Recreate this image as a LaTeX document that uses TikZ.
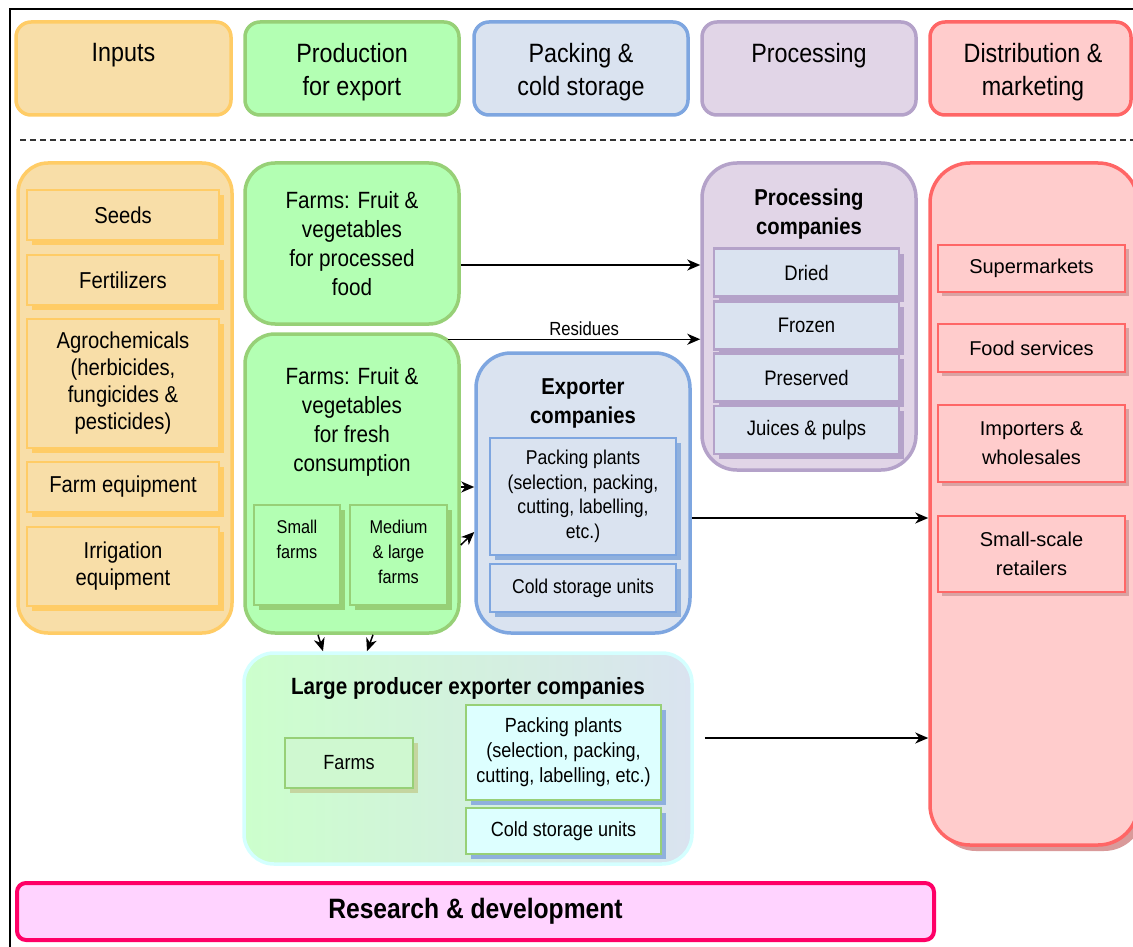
\documentclass[tikz,border=0pt]{standalone}
\usepackage{fontspec}
\setmainfont[FakeStretch=0.88]{Liberation Sans}
\newfontfamily\arialfont{Liberation Sans}
\usetikzlibrary{arrows.meta,shadows,calc}
\newcommand\myfs[2]{\fontsize{#1}{#2}\selectfont}
\definecolor{inF}{HTML}{F8DEA8}
\definecolor{inD}{HTML}{FFCC66}
\definecolor{prF}{HTML}{B3FFB3}
\definecolor{prD}{HTML}{97D077}
\definecolor{paF}{HTML}{DAE3F0}
\definecolor{paD}{HTML}{7EA6E0}
\definecolor{exS}{HTML}{8FB0DD}
\definecolor{pcF}{HTML}{E1D5E7}
\definecolor{pcD}{HTML}{B4A2C9}
\definecolor{diF}{HTML}{FFCCCC}
\definecolor{diD}{HTML}{FF6666}
\definecolor{diS}{HTML}{D99A9A}
\definecolor{diIS}{HTML}{D9A3A3}
\definecolor{rdF}{HTML}{FFD3FF}
\definecolor{rdD}{HTML}{FF0066}
\definecolor{lgL}{HTML}{CCFFCC}
\definecolor{lgR}{HTML}{DAE3F0}
\definecolor{lgD}{HTML}{D4FFFF}
\definecolor{cyF}{HTML}{DDFFFF}
\definecolor{fmF}{HTML}{CFF8D0}
\definecolor{fmS}{HTML}{C5D5A0}
\begin{document}
\begin{tikzpicture}[x=1pt,y=-1pt,
  hdr/.style={draw, line width=3.5pt, rounded corners=15pt, minimum height=93pt, inner sep=0pt},
  htxt/.style={font=\myfs{26.5}{33}, align=center, inner sep=0pt, anchor=north},
  cont/.style={draw, line width=3.5pt, inner sep=0pt},
  ibox/.style={draw, line width=2.6pt, inner sep=0pt, align=center},
  shad/.style={drop shadow={shadow xshift=5pt, shadow yshift=-5pt, fill=#1, opacity=1}},
  ttl/.style={font=\bfseries\myfs{23}{29}, align=center, inner sep=0pt, anchor=north},
  arr/.style={line width=1.5pt, -{Stealth[length=13pt,width=11pt,inset=4pt]}},
]
\useasboundingbox (0,0) rectangle (1133,947);
\fill[white] (0,0) rectangle (1133,947);
% frame and separator
\draw[line width=1.6pt] (1133,9) -- (10,9) -- (10,947);
\draw[line width=1.1pt, black!80, dash pattern=on 6pt off 4pt] (20,140) -- (1133,140);

% headers
\node[hdr, fill=inF, draw=inD, minimum width=215pt] (hIn) at (123.5,68.5) {};
\node[htxt] (hInT) at (123.5,43.5) {Inputs};
\node[hdr, fill=prF, draw=prD, minimum width=214pt] (hPr) at (352,68.5) {};
\node[htxt] (hPrT) at (352,43.5) {Production\\for export};
\node[hdr, fill=paF, draw=paD, minimum width=214pt] (hPa) at (581,68.5) {};
\node[htxt] (hPaT) at (581,43.5) {Packing \&\\cold storage};
\node[hdr, fill=pcF, draw=pcD, minimum width=214pt] (hPc) at (809,68.5) {};
\node[htxt] (hPcT) at (809,43.5) {Processing};
\node[hdr, fill=diF, draw=diD, minimum width=201pt] (hDi) at (1030.5,68.5) {};
\node[htxt] (hDiT) at (1033,43.5) {Distribution \&\\marketing};

% inputs
\node[cont, fill=inF, draw=inD, rounded corners=30pt, minimum width=214pt, minimum height=470pt] (inC) at (125,398) {};
\begin{scope}[every node/.style={ibox, fill=inF, draw=inD, shad=inD, minimum width=192pt, font=\myfs{23}{27}}]
\node[minimum height=50pt] (seeds) at (123,215) {Seeds};
\node[minimum height=50pt] (fert) at (123,280) {Fertilizers};
\node[minimum height=129pt] (agro) at (123,383.5) {Agrochemicals\\(herbicides,\\fungicides \&\\pesticides)};
\node[minimum height=50pt] (farmeq) at (123,487) {Farm equipment};
\node[minimum height=79pt] (irr) at (123,566.5) {Irrigation\\equipment};
\end{scope}

% production
\node[cont, fill=prF, draw=prD, rounded corners=30pt, minimum width=214pt, minimum height=161pt, align=center, font=\myfs{23.5}{29}] (procF) at (352,243.5) {Farms: Fruit \&\\vegetables\\for processed\\food};
\node[cont, fill=prF, draw=prD, rounded corners=30pt, minimum width=214pt, minimum height=299pt] (fresh) at (352,483.5) {};
\node[font=\myfs{23.5}{29}, align=center, inner sep=0pt, anchor=north] (freshT) at (352,367) {Farms: Fruit \&\\vegetables\\for fresh\\consumption};
\node[ibox, fill=prF, draw=prD, shad=prD, minimum width=86pt, minimum height=100pt] (small) at (297,555) {};
\node[font=\myfs{18.5}{25}, align=center, inner sep=0pt, anchor=north] (smallT) at (297,520) {Small\\farms};
\node[ibox, fill=prF, draw=prD, shad=prD, minimum width=97pt, minimum height=100pt] (med) at (398.5,555) {};
\node[font=\myfs{18.5}{25}, align=center, inner sep=0pt, anchor=north] (medT) at (398.5,520) {Medium\\\& large\\farms};

% exporter
\node[cont, fill=paF, draw=paD, rounded corners=35pt, minimum width=214pt, minimum height=280pt] (expC) at (583,493) {};
\node[ttl] (expT) at (583,378) {Exporter\\companies};
\node[ibox, fill=paF, draw=paD, shad=exS, minimum width=186pt, minimum height=117pt, font=\myfs{20}{24.5}] (pack) at (583,496.5) {Packing plants\\(selection, packing,\\cutting, labelling,\\etc.)};
\node[ibox, fill=paF, draw=paD, shad=exS, minimum width=186pt, minimum height=48pt, font=\myfs{20}{24.5}] (cold) at (583,588) {Cold storage units};

% processing
\node[cont, fill=pcF, draw=pcD, rounded corners=35pt, minimum width=214pt, minimum height=307pt] (procC) at (809,316.5) {};
\node[ttl] (procT) at (809,189) {Processing\\companies};
\begin{scope}[every node/.style={ibox, fill=paF, draw=pcD, shad=pcD, minimum width=185pt, minimum height=48pt, font=\myfs{21}{25}}]
\node (dried) at (806.5,272.5) {Dried};
\node (frozen) at (806.5,325.5) {Frozen};
\node (pres) at (806.5,377.5) {Preserved};
\node (juice) at (806.5,430) {Juices \& pulps};
\end{scope}

% distribution
\node[cont, fill=diF, draw=diD, rounded corners=40pt, minimum width=208pt, minimum height=682pt, drop shadow={shadow xshift=6pt, shadow yshift=-6pt, fill=diS, opacity=1}] (dist) at (1034,504) {};
\begin{scope}[every node/.style={ibox, fill=diF, draw=diD, drop shadow={shadow xshift=4pt, shadow yshift=-4pt, fill=diIS, opacity=1}, minimum width=187pt, font=\arialfont\myfs{20}{29}}]
\node[minimum height=47pt] (superm) at (1031.5,268.5) {Supermarkets};
\node[minimum height=48pt] (foods) at (1031.5,348) {Food services};
\node[minimum height=77pt] (import) at (1031.5,443.5) {Importers \&\\wholesales};
\node[minimum height=76pt] (retail) at (1031.5,554) {Small-scale\\retailers};
\end{scope}

% large producer exporters
\node[cont, draw=lgD, left color=lgL, right color=lgR, rounded corners=30pt, minimum width=448pt, minimum height=211pt] (large) at (468,758.5) {};
\node[ttl, font=\bfseries\myfs{23.5}{29}] (largeT) at (468,677) {Large producer exporter companies};
\node[ibox, fill=fmF, draw=prD, shad=fmS, minimum width=128pt, minimum height=50pt, font=\myfs{20.5}{25}] (lfarms) at (349,763) {Farms};
\node[ibox, fill=cyF, draw=prD, shad=exS, minimum width=195pt, minimum height=95pt, font=\myfs{20.5}{25}] (lpack) at (563.5,752.5) {Packing plants\\(selection, packing,\\cutting, labelling, etc.)};
\node[ibox, fill=cyF, draw=prD, shad=exS, minimum width=195pt, minimum height=46pt, font=\myfs{20.5}{25}] (lcold) at (563.5,831) {Cold storage units};

% research
\node[draw=rdD, fill=rdF, line width=4pt, rounded corners=9pt, minimum width=917pt, minimum height=57pt, inner sep=0pt, font=\bfseries\myfs{28}{33}] (rd) at (475.5,911.5) {\raisebox{-2pt}{Research \& development}};

% connectors
\coordinate (a1) at ([yshift=-21.5pt]procF.east);
\draw[arr] (a1) -- (a1 -| procC.west);
\coordinate (a2) at ([xshift=-13pt,yshift=-7pt]fresh.north east);
\draw[arr] (a2) -- node[pos=0.54, above=3pt, inner sep=0pt, font=\myfs{19}{23}] (resid) {Residues} (a2 -| procC.west);
\coordinate (a3) at ([yshift=-3.5pt]fresh.east);
\draw[arr] (a3) -- (a3 -| expC.west);
\draw[arr] ([yshift=-61.5pt]fresh.east) -- ([yshift=-39pt]expC.west);
\coordinate (a4) at ([yshift=-25pt]expC.east);
\draw[arr] (a4) -- (a4 -| dist.west);
\draw[arr] ([xshift=-34pt]fresh.south) -- ([xshift=-145pt]large.north);
\draw[arr] ([xshift=21pt]fresh.south) -- ([xshift=-101pt]large.north);
\coordinate (a5) at ([xshift=11pt,yshift=20.5pt]large.east);
\draw[arr] (a5) -- (a5 -| dist.west);
\end{tikzpicture}
\end{document}
